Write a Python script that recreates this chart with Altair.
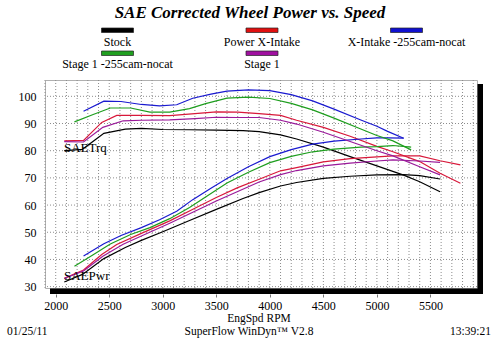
import altair as alt
import pandas as pd

# ---------------- data ----------------
series_names = ["Stock", "Power X-Intake", "X-Intake -255cam-nocat",
                "Stage 1 -255cam-nocat", "Stage 1"]
line_colors = ["#000000", "#d8183a", "#1a1ad0", "#1e9e1e", "#9a1a9a"]
swatch_colors = ["#000000", "#e01010", "#1010d0", "#20a020", "#a010a0"]

rpm_stock = [2080, 2250, 2450, 2650, 2800, 3000, 3250, 3500, 3750, 3900, 4100, 4250, 4500, 4750, 5000, 5250, 5400, 5590]
trq_stock = [80.0, 80.5, 86.4, 87.9, 88.2, 87.8, 87.7, 87.6, 87.4, 87.0, 85.8, 84.3, 81.3, 77.8, 74.4, 71.0, 68.6, 64.9]
pwr_stock = [31.7, 34.5, 40.3, 44.4, 47.0, 50.2, 54.3, 58.4, 62.4, 64.6, 67.0, 68.3, 69.8, 70.6, 71.1, 71.2, 70.8, 69.6]

rpm_pxi = [2080, 2260, 2430, 2570, 2800, 3065, 3300, 3500, 3700, 3900, 4100, 4250, 4500, 4750, 5000, 5150, 5400, 5590, 5780]
trq_pxi = [83.6, 83.8, 90.4, 93.0, 93.0, 92.9, 93.6, 94.3, 94.2, 93.6, 93.0, 91.2, 88.6, 85.3, 81.6, 79.6, 76.0, 71.7, 68.0]
pwr_pxi = [33.1, 36.1, 41.8, 45.5, 49.6, 54.2, 58.8, 62.8, 66.4, 69.5, 72.6, 73.8, 75.9, 77.1, 77.7, 78.1, 78.1, 76.3, 74.8]

rpm_xin = [2260, 2450, 2610, 2800, 2970, 3130, 3280, 3450, 3600, 3800, 4000, 4200, 4400, 4600, 4850, 5000, 5100, 5250]
trq_xin = [94.5, 98.2, 98.1, 97.0, 96.5, 96.9, 99.3, 100.8, 101.9, 102.4, 102.1, 100.6, 98.3, 95.3, 91.3, 89.0, 87.1, 84.6]
pwr_xin = [41.3, 45.8, 48.8, 51.7, 54.6, 57.7, 62.0, 66.2, 69.8, 74.1, 77.8, 80.4, 82.4, 83.5, 84.3, 84.7, 84.7, 84.6]

rpm_s1n = [2175, 2350, 2510, 2700, 2880, 3065, 3250, 3400, 3600, 3800, 4000, 4200, 4400, 4600, 4850, 5000, 5150, 5320]
trq_s1n = [90.6, 93.3, 95.7, 95.7, 94.2, 94.2, 95.5, 97.3, 99.3, 99.7, 99.2, 97.4, 95.0, 92.0, 88.0, 85.6, 83.6, 80.3]
pwr_s1n = [37.5, 41.7, 45.7, 49.2, 51.7, 55.0, 59.1, 63.0, 68.1, 72.1, 75.6, 77.9, 79.6, 80.6, 81.3, 81.5, 81.9, 81.3]

rpm_s1 = [2080, 2260, 2440, 2630, 2800, 3065, 3300, 3500, 3700, 3900, 4100, 4250, 4500, 4750, 5000, 5150, 5400, 5590]
trq_s1 = [83.3, 83.2, 88.6, 91.0, 91.2, 91.3, 91.8, 92.3, 92.2, 92.2, 91.2, 89.8, 86.8, 83.4, 80.0, 78.1, 74.1, 71.1]
pwr_s1 = [33.0, 35.8, 41.2, 45.6, 48.6, 53.3, 57.7, 61.5, 65.0, 68.5, 71.2, 72.7, 74.4, 75.4, 76.2, 76.6, 76.2, 75.7]

x_ticks = [2000, 2500, 3000, 3500, 4000, 4500, 5000, 5500]
y_ticks = [30, 40, 50, 60, 70, 80, 90, 100]
x_grid = list(range(1900, 6000, 100))

# ---------------- build tables ----------------
rows = []
for name, rpm, trq, pwr in [
    (series_names[0], rpm_stock, trq_stock, pwr_stock),
    (series_names[1], rpm_pxi, trq_pxi, pwr_pxi),
    (series_names[2], rpm_xin, trq_xin, pwr_xin),
    (series_names[3], rpm_s1n, trq_s1n, pwr_s1n),
    (series_names[4], rpm_s1, trq_s1, pwr_s1),
]:
    for r, t, p in zip(rpm, trq, pwr):
        rows.append({"series": name, "rpm": r, "value": t, "measure": "SAETrq"})
        rows.append({"series": name, "rpm": r, "value": p, "measure": "SAEPwr"})
df = pd.DataFrame(rows)

W, H = 432, 208
OX, OY = 45, 80  # plot origin on the page

leg = pd.DataFrame({"name": series_names, "color": swatch_colors})
leg["col"] = leg.index % 3
leg["row"] = leg.index // 3
leg["cx"] = 117.5 + leg["col"] * 144.5 - OX
leg["x1"] = leg["cx"] - 16
leg["x2"] = leg["cx"] + 16
leg["y1"] = 28 + leg["row"] * 23 - OY
leg["y2"] = leg["y1"] + 4.5
leg["ly"] = 42 + leg["row"] * 22 - OY

SERIF = "Liberation Serif"
xs = alt.Scale(domain=[1900, 5935], nice=False, zero=False)
ys = alt.Scale(domain=[29.5, 106], nice=False, zero=False)

xaxis = alt.Axis(values=x_ticks, format="d", title=None, grid=False,
                 domain=False, ticks=True, tickSize=3, tickColor="#777",
                 offset=6, labelPadding=3, labelFont=SERIF,
                 labelFontSize=12, labelColor="black")
yaxis = alt.Axis(values=y_ticks, format="d", title=None, grid=False,
                 domain=False, ticks=False, labelPadding=9,
                 labelFont=SERIF, labelFontSize=12, labelColor="black")

one = pd.DataFrame({"k": [0]})

vgrid = alt.Chart(pd.DataFrame({"rpm": x_grid})).mark_rule(
    color="#8c8c8c", strokeWidth=1, strokeDash=[1, 2]
).encode(x=alt.X("rpm:Q", scale=xs, axis=xaxis))

hgrid = alt.Chart(pd.DataFrame({"value": y_ticks})).mark_rule(
    color="#8c8c8c", strokeWidth=1, strokeDash=[1, 2]
).encode(y=alt.Y("value:Q", scale=ys, axis=yaxis))

lines = alt.Chart(df).mark_line(strokeWidth=1.2, clip=True).encode(
    x=alt.X("rpm:Q", scale=xs, axis=xaxis),
    y=alt.Y("value:Q", scale=ys, axis=yaxis),
    color=alt.Color("series:N", scale=alt.Scale(domain=series_names, range=line_colors), legend=None),
    detail="measure:N",
    order="rpm:Q",
)

shadow_bottom = alt.Chart(one).mark_rect(color="black").encode(
    x=alt.value(5), x2=alt.value(438), y=alt.value(208.5), y2=alt.value(214))
shadow_right = alt.Chart(one).mark_rect(color="black").encode(
    x=alt.value(432.5), x2=alt.value(438), y=alt.value(4), y2=alt.value(214))

title = alt.Chart(one).mark_text(
    text="SAE Corrected Wheel Power vs. Speed", font=SERIF, fontSize=17,
    fontStyle="italic", fontWeight="bold", align="center", baseline="middle", color="black"
).encode(x=alt.value(250 - OX), y=alt.value(13 - OY))

swatches = alt.Chart(leg).mark_rect(stroke="#222", strokeWidth=0.7).encode(
    x=alt.X("x1:Q", scale=None), x2="x2:Q",
    y=alt.Y("y1:Q", scale=None), y2="y2:Q",
    fill=alt.Fill("color:N", scale=None),
)
leg_text = alt.Chart(leg).mark_text(
    font=SERIF, fontSize=12, align="center", baseline="middle", color="black"
).encode(x=alt.X("cx:Q", scale=None), y=alt.Y("ly:Q", scale=None), text="name:N")

def label(txt, x, y, align="left", size=12):
    return alt.Chart(one).mark_text(
        text=txt, font=SERIF, fontSize=size, align=align, baseline="middle", color="black"
    ).encode(x=alt.value(x - OX), y=alt.value(y - OY))

chart = alt.layer(
    vgrid, hgrid, lines, shadow_bottom, shadow_right, title, swatches, leg_text,
    label("SAETrq", 64, 148, size=13),
    label("SAEPwr", 64, 276, size=13),
    label("EngSpd  RPM", 259, 319, align="center", size=11.5),
    label("01/25/11", 7, 332, size=11.5),
    label("SuperFlow WinDyn\u2122 V2.8", 249, 332, align="center", size=11.5),
    label("13:39:21", 491, 332, align="right", size=11.5),
).properties(
    width=W, height=H,
    autosize=alt.AutoSizeParams(type="none"),
    padding={"left": OX, "top": OY, "right": 500 - OX - W, "bottom": 338 - OY - H},
    background="white",
).configure_view(stroke="#b0b0b0", strokeWidth=1)

chart.save("out.html", embed_options={"renderer": "svg", "actions": False})
